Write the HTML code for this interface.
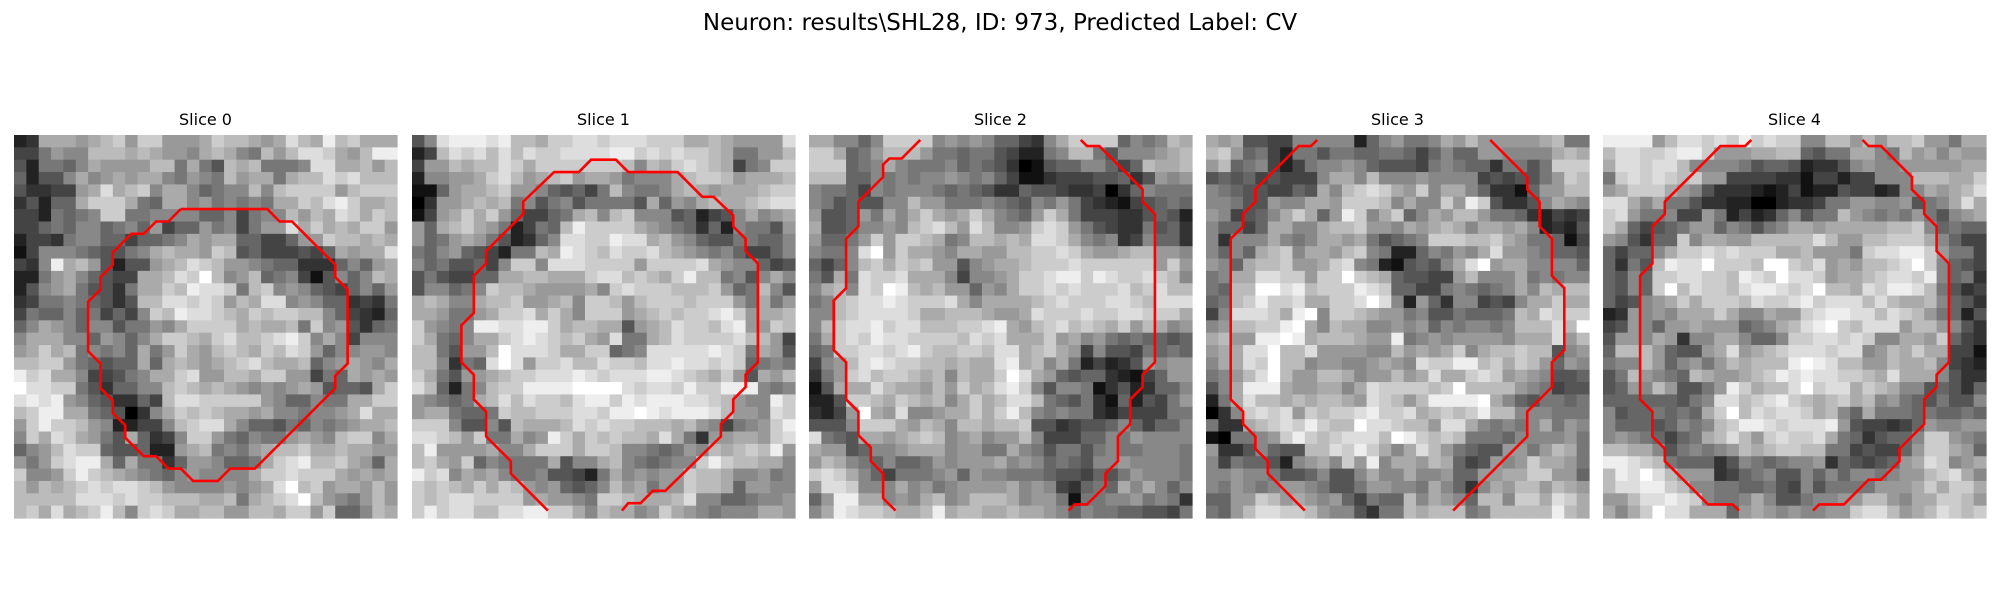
<!DOCTYPE html>
<html><head><meta charset="utf-8"><style>
html,body{margin:0;padding:0;background:#fff;width:2000px;height:600px;overflow:hidden}
svg text{font-family:"DejaVu Sans","Liberation Sans",sans-serif;fill:#000}
</style></head><body>
<svg id="fig" width="2000" height="600" xmlns="http://www.w3.org/2000/svg">
<rect width="2000" height="600" fill="#fff"/>
<text x="1000" y="30" text-anchor="middle" font-size="23">Neuron: results\SHL28, ID: 973, Predicted Label: CV</text>
<g id="panels"></g>
</svg>
<script>
const sliceTitles=["Slice 0","Slice 1","Slice 2","Slice 3","Slice 4"];
const img0=["23aaa9abc9cc999acbba9adbaebcaaa","4479 88bbbaba998aba87b9bddca9be".replace(/ /g,""),"5277 6 8a9999bb7a75bab7778ddaab9b".replace(/ /g,""),"6255 8a89a9aa8798 7b9aa7abbdcdbb".replace(/ /g,""),"53344 9adabc8aa8678 8b8bcccc9bcccb".replace(/ /g,""),"35266acc ca76aa89787 87aacbdecaab".replace(/ /g,""),"44276 78cc778888 66847 88b9badcacb".replace(/ /g,""),"4467688678694669784799dacabacc9","2443788664667 8a9aa66446 99cbbaba".replace(/ /g,""),"1488876557 8abaa9cb5644454 6a9aad".replace(/ /g,""),"438eab95255 9abdcb99876633368 69a".replace(/ /g,""),"2279a8654 4aabdcfb89b678415868ba".replace(/ /g,""),"2589a7553 7aacbeddc7bc898654 686 9".replace(/ /g,""),"3477876535bbddcdc9badd89866343 7".replace(/ /g,""),"476686746 48cbeddcbacbccbb864326".replace(/ /g,""),"68a98688577 98acccca baab7c895367".replace(/ /g,""),"8aaa886986 8accbacdbbcdec8a84888".replace(/ /g,""),"9aca b78786a79ca9bcbacbdc96889 98".replace(/ /g,""),"bbcc976566a6aba9abcdbaab689a98a","ecdaa844578aacd99bbacc99476a9a9","fddcc75366 88bcbaba98989a95665acb".replace(/ /g,""),"dede986533 64bddccccc98668 77aacca".replace(/ /g,""),"bceeaa76503 8acbcbaa9a8878 89adaa".replace(/ /g,""),"9ceccb98224 48bcdda866576878 9aab".replace(/ /g,""),"8cadca975a634 8cc976877 9a98bcc8a".replace(/ /g,""),"689bdcc65562 29ab787 9abbcaabaa9".replace(/ /g,""),"979cdeea6a7736 998667acdebbca96a".replace(/ /g,""),"c889cecba98768988 88accdccca9a9a".replace(/ /g,""),"b9babcdcddcb98888 989adfbc9aa9b9".replace(/ /g,""),"bbbbbdddcdccbbbaab7abcdfb987 9b9".replace(/ /g,""),"bcadabceb8cdcaabb99bbacc9c668ba"];
const img1=["58deeedebbaccddcdddccca aba9999d".replace(/ /g,""),"24bdcdbdbdccddddeecdcdccba7799b","499babbdcacccccccb8bacdcba478cc","28899acdb9abc9aa97888abccb9aaab","1169aabc998656 47b87 78aba9aaabc".replace(/ /g,""),"0399abab7857857777 5a698aba abcd".replace(/ /g,""),"149acac9644 67ab8bc8885624 58a89a".replace(/ /g,""),"96abca9724 76becccca98763628775 9".replace(/ /g,""),"9679a9752368ddccedda b98655776 68".replace(/ /g,""),"76896542 77baedcbdccdba98786446 8".replace(/ /g,""),"86755648cc8dddcccc9ccccda988645 5".replace(/ /g,""),"5754466aabbaaacddbcbaceb b7858a84".replace(/ /g,""),"588678cbba9999a8cdcccbbbc967b85","aba88abbc99ab8ccb9bcccbccc97a79","aa977 9accdaca8ccc9abcbccdec9aab".replace(/ /g,""),"c9878eeddeecabbaa59abdccbde99cb","ca768aacdedcbca9d77abdccccdbb94","bb759 9bfdddcaacc678ddddded c7a95".replace(/ /g,""),"bb8376dfd9ccdbbdccbddeddcdc6787","ca759 9abccdddedcdddeedcbac95a9b".replace(/ /g,""),"db6278bccee eeffffdcddcecceee878 4a".replace(/ /g,"").slice(0,31),"98767abdbdccbdeecedeeeddcb988ec","9aa7667cbbcccddceefedeeedb998dc","ccc8558 5baaabdcdccbbbab984789ce".replace(/ /g,""),"ddcb9c77a89ecacbcbbada739 9aa9cd".replace(/ /g,""),"be9999a88accc accb88767 98bab cbe9".replace(/ /g,""),"bca9c687777a588ab876788cecbbaa8","ecd8a9a87785542 7a89899cbba889 78".replace(/ /g,""),"cbcbacacb98965 68b9a799cbba699 88".replace(/ /g,""),"cbcddccc c9a99 87ccbaaabd886678 89".replace(/ /g,""),"cecddbbddeecca8baa89ca9878 88aa9".replace(/ /g,"")];
const img2=["aa886 8cccc898986643 8acccc6878baa".replace(/ /g,""),"cca679bbb977677542278bb7588 89ab".replace(/ /g,""),"ccc678a877786765301566886 46baab".replace(/ /g,""),"bbb66878788987864113444556359 89".replace(/ /g,""),"87764878887676533655433 403 68 77".replace(/ /g,""),"87565588b99777876587974321456 76".replace(/ /g,""),"9556 97a8aca9aca876 9ca7444335652".replace(/ /g,""),"a55688 98bcdb9db889cdc9754337563".replace(/ /g,""),"96679c9ccba78bbabadd ca87834866 3".replace(/ /g,""),"8778df9caa98aa99bbccdca99abb998","646 8bcacbc995 89aabcccdcccccc9c98".replace(/ /g,""),"75a7dccdaaa8488 9accdeecedccdcb8".replace(/ /g,""),"8ab8dcfeba b996 98accdcdcccdbcdbb".replace(/ /g,""),"78bcddedcccda8aaaabcdcccddcbddd","88bcddddcaabbba99adccc dccddccca".replace(/ /g,""),"8bcddecddbbbccdea9bcdbcbac9ba89","7acdceddccccbdcdaaac9a897676656","67ccddcdecbbccbddabca948554767 6".replace(/ /g,""),"489bdedccbbabaadeab8a7242359899","379cdbccbab8baacfda965663214699","15aaadbaa9b9cabdec858871352366 8".replace(/ /g,""),"225ccbacbab8acabddb7657316254 79".replace(/ /g,""),"3249fa9d889aacaceb87877324444 77".replace(/ /g,""),"5558ccca9ba8bbabbc553455686466 8".replace(/ /g,""),"d765aa9abcb89a899b844466879888 8".replace(/ /g,""),"a9956889aaa899 77a87577578778887".replace(/ /g,""),"9ba87686679899 9a8986765889888 87".replace(/ /g,""),"cdca86477789698877765546579888 7".replace(/ /g,""),"9ddc888a8978999 9a8984367 6a8a868".replace(/ /g,""),"69eeaa898ab89bbba899717788978 73".replace(/ /g,""),"8aedccbaabeabbaabaa9868776655 47".replace(/ /g,"")];
const img3=["a9a55448888826 89778a9b99999ab778".replace(/ /g,""),"bc967427757766776468669988 88abab".replace(/ /g,""),"9b67842478898655547876637757ccc","5656454448aa8b8889888845455 79cb".replace(/ /g,""),"876554465a8bcdca9c8aa8633169 9bb".replace(/ /g,""),"8875598 8aa9cccb8a88c9ec53358a98".replace(/ /g,""),"98456 8aca69ec8ac68a9bb97763243 4".replace(/ /g,""),"866 46aa88abbc99 8a9aba8aa9a82325".replace(/ /g,""),"83888a878aa9a756 78cccbbca9776 14".replace(/ /g,""),"8686abc8aa9bc872268798ad9987665","986abbc99acd872156 58adf9aa88886".replace(/ /g,""),"78aaddcc9ccfcba655449b888a78788","76bbffdebcccedc664478767 8a8babb".replace(/ /g,""),"67bceccdaaccdfd8296388454 8aacaa".replace(/ /g,""),"48dddcaef8ccba99785576667badccc","89bbccefa8baa889896878878bbbdbf","ab99eefeabbba99e789899998aaad9b","9aaddfbbd99998 8b9a9ac8abbcbb589".replace(/ /g,""),"8aadcfbb8998 89a98dcceebcacb9698".replace(/ /g,""),"789bdfb99bba899b9ada acdc9a98556".replace(/ /g,""),"58aeeea99aa8adccccbcfbbbb987455","27adbbabab ba9dcb9beeeefa865776 7".replace(/ /g,""),"038cdcd9cbccdeccdabcbceb b888777".replace(/ /g,""),"733abcdcecbbfddcbb9dda8787 8a798".replace(/ /g,""),"1077 89cecbcdddbfecbcb7776888897".replace(/ /g,""),"9335 86 55bbdceca8adb9765599 79ba7".replace(/ /g,""),"84766528 9a8c9e8aa9ba645989caa97".replace(/ /g,""),"889887 55685 58a88a889669 9aacc996".replace(/ /g,""),"879878998755799887a86 38a9bb9ba9".replace(/ /g,""),"66 99cb9a989647 66b8a986bb8ccadca".replace(/ /g,""),"769bddccb9885377babbb78bbbbbeba"];
const img4=["eeee9bddcdcecdcc88bb9b9bbc997aa","bddccdeec999aabb6577aa87b9a8a99","addcddb888875665233589889999 9aa".replace(/ /g,""),"7cdcdcbc994444331442448 88bbbaac".replace(/ /g,""),"9acccа98533321241225442388 9abde".replace(/[ а]/g,"a"),"dda8a775332200233477998895 78ada".replace(/ /g,""),"cd9778449724236857 7b98787975 89a".replace(/ /g,""),"ca645679968757 8aa9aaaaabbc86766".replace(/ /g,""),"985366c8aa99bbbbbdb99bbccca8644","64668accdcdccc aab999 7cddeec9774".replace(/ /g,""),"6375bedd fcccbffcbd9a9bbcdfc8654".replace(/ /g,""),"6586ccddccbedcfddc9aabcddce8673","6586cfbdccbdeedcdfbbadceedb7534","6458 9acaccc bdccdecdddbdbaab8653".replace(/ /g,""),"239898aaaca88a99cdeeddbdcb97625","4598699a999678abdefcbddd9bb9853 4".replace(/ /g,"").slice(0,31),"599 8a938 8aa8668ccddcdc88aa9c643".replace(/ /g,""),"6bbb9655 9ad9abcdddcdd89bacaa441".replace(/ /g,""),"788b9689 79babbbefedbb99baab8432".replace(/ /g,""),"57b98 76ba99abcededdccbadaaa8533".replace(/ /g,""),"56 98b9557 9ecabbdfcddacba885653 6".replace(/ /g,""),"666666578ddbcdecbabcab897657558","856676 76acfbdcddcab86a777676676".replace(/ /g,""),"8666568 78bceedcddde954434698899 9".replace(/ /g,"").slice(0,31),"8987646 7abdb9cdccda7635668cc987".replace(/ /g,""),"bbaa8578789babccbb77454469cca96","eedcb766635876788936545 69adc89a".replace(/ /g,""),"bedfdb9993467855868688789 9bcda8".replace(/ /g,""),"bddeecb887766754857777999acacca9".replace(/ /g,"").slice(0,31),"99bddedc8778a855788 99bb98aaccb9".replace(/ /g,""),"a8acfddaaa69a989889 9cddb9abdcbc".replace(/ /g,"")];
const images=[img0,img1,img2,img3,img4];
const contours=[
 [[[13.5,6],[20.5,6],[21.5,7],[22.5,7],[26,10.5],[26,11.5],[27,12.5],[27,18.5],[26,19.5],[26,20.5],[19.5,27],[17.5,27],[16.5,28],[14.5,28],[13.5,27],[12.5,27],[11.5,26],[10.5,26],[9,24.5],[9,23.5],[8,22.5],[8,21.5],[7,20.5],[7,18.5],[6,17.5],[6,13.5],[7,12.5],[7,11.5],[8,10.5],[8,9.5],[9.5,8],[10.5,8],[11.5,7],[12.5,7],[13.5,6]]],
 [[[11,30.4],[8,27.4],[8,26.4],[6,24.4],[6,22.4],[5,21.4],[5,19.4],[4,18.4],[4,15.4],[5,14.4],[5,11.4],[6,10.4],[6,9.4],[9,6.4],[9,5.4],[11.5,3],[13.5,3],[14.5,2],[16.5,2],[17.5,3],[21.5,3],[23.5,5],[24.4,5],[26,6.5],[26,7.4],[27,8.4],[27,9.4],[28,10.4],[28,18.4],[27,19.4],[27,20.4],[26,21.4],[26,22.4],[25,23.4],[25,24.4],[20.5,28.8],[19.5,28.8],[18.5,29.8],[17.5,29.8],[17,30.4]]],
 [[[9,0.4],[7.5,1.9],[6.5,1.9],[6,2.4],[6,3.4],[4,5.4],[4,7.4],[3,8.4],[3,12.4],[2,13.4],[2,17.4],[3,18.4],[3,21.4],[4,22.4],[4,24.3],[5,25.3],[5,26.4],[6,27.4],[6,29.4],[7,30.4]],
  [[22,0.4],[22.5,0.9],[23.5,0.9],[27,4.4],[27,5.4],[28,6.4],[28,18.4],[27,19.4],[27,20.4],[26,21.4],[26,23.4],[25,24.4],[25,26.4],[24,27.4],[24,28.4],[22.5,29.9],[21.5,29.9],[21,30.4]]],
 [[[9,0.4],[8.5,0.9],[7.5,0.9],[4,4.4],[4,5.4],[3,6.4],[3,7.4],[2,8.4],[2,21.4],[3,22.4],[3,23.4],[4,24.4],[4,25.4],[5,26.4],[5,27.4],[8,30.4]],
  [[23,0.4],[26,3.4],[26,4.4],[27,5.4],[27,7.4],[28,8.4],[28,11.4],[29,12.4],[29,17.4],[28,18.4],[28,20.4],[27,21.4],[26,22.4],[26,24.4],[20,30.4]]],
 [[[12,0.4],[11.5,0.9],[9.5,0.9],[5,5.4],[5,6.4],[4,7.4],[4,10.4],[3,11.4],[3,21.4],[4,22.4],[4,24.4],[5,25.4],[5,26.4],[8.5,29.9],[10.5,29.9],[11,30.4]],
  [[21,0.4],[21.5,0.9],[22.5,0.9],[25,3.4],[25,4.4],[26,5.4],[26,6.4],[27,7.4],[27,9.4],[28,10.4],[28,18.4],[27,19.4],[27,20.4],[26,21.4],[26,23.4],[24,25.4],[24,26.4],[22.5,27.9],[21.5,27.9],[19.5,29.9],[17.5,29.9],[17,30.4]]]
];
const NS="http://www.w3.org/2000/svg";
const N=31, lefts=[14,412,809,1206,1603], top0=135, size=383, cell=size/N;
const g=document.getElementById('panels');
function mk(t,a){const e=document.createElementNS(NS,t);for(const k in a)e.setAttribute(k,a[k]);return e;}
images.forEach((rows,p)=>{
  const pg=mk('g',{});
  
  
  g.appendChild(pg);
  const xs=v=>lefts[p]+v*cell, ys=v=>top0+v*cell;
  for(let r=0;r<N;r++){
    let s=(rows[r]||rows[rows.length-1]).replace(/[^0-9a-f]/gi,'');
    while(s.length<N)s+=s[s.length-1];
    for(let c=0;c<N;c++){
      const v=parseInt(s[c],16)*17;
      const rc=mk('rect',{x:xs(c).toFixed(2),y:ys(r).toFixed(2),width:(cell+0.6).toFixed(2),height:(cell+0.6).toFixed(2),fill:`rgb(${v},${v},${v})`});
      
      
      pg.appendChild(rc);
    }
  }
  contours[p].forEach(line=>{
    const pl=mk('polyline',{points:line.map(q=>xs(q[0]).toFixed(1)+','+ys(q[1]).toFixed(1)).join(' '),fill:'none',stroke:'#ff0000','stroke-width':2.6,'stroke-linejoin':'miter'});
    
    
    pg.appendChild(pl);
  });
  const t=mk('text',{x:lefts[p]+size/2,y:125,'text-anchor':'middle','font-size':16});
  t.textContent=sliceTitles[p];
  
  
  pg.appendChild(t);
});
</script>
</body></html>
